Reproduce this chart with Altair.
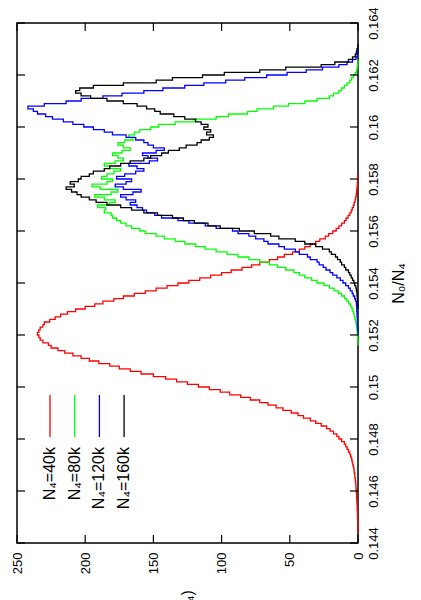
import altair as alt
import pandas as pd

# ---------------- data ----------------
ratio_ticks = [0.144, 0.146, 0.148, 0.150, 0.152, 0.154, 0.156, 0.158, 0.160, 0.162, 0.164]
count_ticks = [0, 50, 100, 150, 200, 250]

series_names = ["N₄=40k", "N₄=80k", "N₄=120k", "N₄=160k"]
series_colors = ["#ff0000", "#00ff00", "#0000ff", "#000000"]

bin_width = 0.0001

red_start = 0.1444
red_counts = [0, 0, 0, 0, 0.1, 0.3, 0.4, 0.4, 0.5, 0.6, 0.6, 0.8, 0.8, 1, 1, 1.2,
              1.3, 1.5, 1.6, 1.8, 2, 2.3, 2.4, 2.8, 3, 3.4, 3.8, 4.3, 4.7, 5.4, 6, 7,
              8, 9, 10, 12, 14, 15.5, 18, 20.5, 23, 27, 31, 35, 40, 44, 49, 55,
              60, 66, 72, 79, 86, 94, 101, 109, 117, 125, 133, 141, 150, 159, 167, 175,
              182, 190, 197, 203, 209, 215, 220, 225, 227, 231, 233, 234, 235, 234, 233, 231,
              230, 226, 222, 218, 213, 207, 200, 193, 187, 179, 172, 164, 156, 148, 140, 132,
              124, 116, 108, 100, 93, 85, 78, 72, 65, 59, 54, 48, 43, 39, 35, 31,
              28, 24, 21.5, 18.5, 16, 14, 12, 10, 8.7, 7.3, 6, 5, 4.2, 3.4, 2.8, 2.2,
              1.8, 1.4, 1.1, 0.9, 0.7, 0.5, 0.4, 0.2, 0.1, 0]

green_start = 0.1516
green_counts = [0, 0, 0.1, 0.3, 0.4, 0.6, 0.9, 1.1, 1.3, 1.7, 2.2, 2.8, 3.2, 3.8, 4.5, 5.5,
                6.8, 8.2, 10, 12, 14.5, 17.5, 21, 25, 30, 34, 39, 43, 47, 53, 59, 65,
                72, 80, 88, 96, 104, 112, 119, 127, 134, 142, 148, 156, 160, 166, 170, 174,
                177, 180, 181, 186, 185, 191, 182, 178, 186, 193, 181, 176, 189, 195, 184, 180,
                188, 184, 179, 174, 182, 186, 178, 172, 176, 180, 173, 167, 172, 176, 171, 165,
                168, 164, 160, 152, 146, 134, 120, 104, 95, 81, 74, 62, 51, 39, 30, 21,
                18, 14, 12, 10, 8, 6, 4.7, 3.3, 2, 1, 0.7, 0.3, 0.1, 0]

blue_start = 0.1520
blue_counts = [0, 0, 0.1, 0.3, 0.4, 0.4, 0.5, 0.7, 0.7, 0.9, 0.9, 1.1, 1.2, 1.8, 2.5, 3.5,
               4.3, 5.7, 7, 9, 11, 13, 15.5, 18.5, 20.5, 23.5, 25.5, 28.5, 30, 35, 37, 43,
               46, 54, 58, 66, 69, 75, 80, 88, 92, 104, 112, 124, 132, 144, 149, 155,
               158, 162, 167, 163, 170, 174, 165, 159, 172, 178, 170, 166, 177, 171, 163, 157,
               162, 168, 153, 147, 154, 158, 148, 142, 150, 154, 157, 163, 170, 180, 186, 194,
               201, 209, 216, 224, 229, 235, 238, 242, 230, 214, 203, 187, 173, 157, 143, 127,
               113, 97, 83, 67, 52, 38, 26, 14, 8, 4, 1.5, 0.5, 0.1, 0]

black_start = 0.1530
black_counts = [0, 0, 0.2, 0.4, 0.5, 0.7, 0.8, 1.2, 1.6, 2.4, 3, 4, 5, 6, 7, 9,
                10, 12, 13, 15, 16.5, 19.5, 21, 26, 31, 39, 46, 58, 64, 76, 87, 101,
                110, 120, 128, 136, 147, 157, 166, 174, 184, 192, 197, 203, 206, 210, 214, 208,
                211, 205, 203, 197, 194, 186, 182, 174, 167, 157, 152, 144, 139, 131, 126, 118,
                115, 109, 106, 111, 108, 113, 110, 115, 119, 127, 135, 145, 149, 155, 162, 172,
                184, 196, 203, 207, 204, 194, 172, 148, 136, 114, 98, 72, 53, 27, 17, 7,
                4, 2, 1.2, 0.8, 0.1, 0]

all_starts = [red_start, green_start, blue_start, black_start]
all_counts = [red_counts, green_counts, blue_counts, black_counts]

# ---------------- geometry / style ----------------
W, H = 341, 520
FONT = "Liberation Sans"
TICK_LEN = 8

x_scale = alt.Scale(domain=[0, 250], reverse=True, nice=False, zero=False)
y_scale = alt.Scale(domain=[0.144, 0.164], nice=False, zero=False)


def step_frame(name, start, counts):
    rows = []
    for i, c in enumerate(counts):
        lo = round(start + i * bin_width, 6)
        hi = round(start + (i + 1) * bin_width, 6)
        rows.append({"series": name, "c": c, "v": lo, "k": 2 * i})
        rows.append({"series": name, "c": c, "v": hi, "k": 2 * i + 1})
    return pd.DataFrame(rows)


x_axis = alt.Axis(
    orient="bottom", values=count_ticks, format="d",
    labelAngle=270, labelAlign="right", labelBaseline="middle",
    labelPadding=9, ticks=False, domain=False, grid=False,
    labelFont=FONT, labelFontSize=13, labelColor="black",
    labelFlush=False, labelOverlap=False,
    title="P(N₀/N₄)", titleAngle=270, titleAlign="right", titleBaseline="middle",
    titlePadding=16, titleFont=FONT, titleFontSize=16, titleFontWeight="normal",
    titleColor="black",
)
y_axis = alt.Axis(
    orient="right", values=ratio_ticks, format="~g",
    labelAngle=270, labelAlign="center", labelBaseline="top",
    labelPadding=9, ticks=False, domain=False, grid=False,
    labelFont=FONT, labelFontSize=13, labelColor="black",
    labelFlush=False, labelOverlap=False,
    title="N₀/N₄", titleAngle=270, titleAlign="center", titleBaseline="top",
    titlePadding=10, titleFont=FONT, titleFontSize=16, titleFontWeight="normal",
    titleColor="black",
)

layers = []
for k, (name, col, start, counts) in enumerate(zip(series_names, series_colors, all_starts, all_counts)):
    df = step_frame(name, start, counts)
    layers.append(
        alt.Chart(df).mark_line(strokeWidth=1.3, color=col, interpolate="linear")
        .encode(
            x=alt.X("c:Q", scale=x_scale, axis=x_axis, title="P(N₀/N₄)"),
            y=alt.Y("v:Q", scale=y_scale, axis=y_axis, title="N₀/N₄"),
            order="k:Q",
        )
    )

# inward mirrored ticks
rt = pd.DataFrame({"v": ratio_ticks})
ct = pd.DataFrame({"c": count_ticks})
layers.append(alt.Chart(rt).mark_rule(color="black", strokeWidth=1.2).encode(
    y=alt.Y("v:Q", scale=y_scale, axis=y_axis, title="N₀/N₄"),
    x=alt.value(W - TICK_LEN), x2=alt.value(W)))
layers.append(alt.Chart(rt).mark_rule(color="black", strokeWidth=1.2).encode(
    y=alt.Y("v:Q", scale=y_scale, axis=y_axis, title="N₀/N₄"),
    x=alt.value(0), x2=alt.value(TICK_LEN)))
layers.append(alt.Chart(ct).mark_rule(color="black", strokeWidth=1.2).encode(
    x=alt.X("c:Q", scale=x_scale, axis=x_axis, title="P(N₀/N₄)"),
    y=alt.value(H - TICK_LEN), y2=alt.value(H)))
layers.append(alt.Chart(ct).mark_rule(color="black", strokeWidth=1.2).encode(
    x=alt.X("c:Q", scale=x_scale, axis=x_axis, title="P(N₀/N₄)"),
    y=alt.value(0), y2=alt.value(TICK_LEN)))

# manual rotated legend
for k, (name, col) in enumerate(zip(series_names, series_colors)):
    lx = 33 + k * 24.7
    ldf = pd.DataFrame({"label": [name]})
    layers.append(alt.Chart(ldf).mark_rule(color=col, strokeWidth=1.3).encode(
        x=alt.value(lx), y=alt.value(372), y2=alt.value(414)))
    layers.append(alt.Chart(ldf).mark_text(
        angle=270, align="right", baseline="middle", font=FONT, fontSize=16, color="black"
    ).encode(x=alt.value(lx), y=alt.value(424), text="label:N"))

chart = alt.layer(*layers).properties(
    width=W, height=H,
    padding={"left": 9, "top": 15, "right": 55, "bottom": 80},
    autosize=alt.AutoSizeParams(type="none"),
    background="white",
).configure_view(stroke="black", strokeWidth=1.5)

chart.save("out.html", embed_options={"renderer": "svg", "actions": False})
